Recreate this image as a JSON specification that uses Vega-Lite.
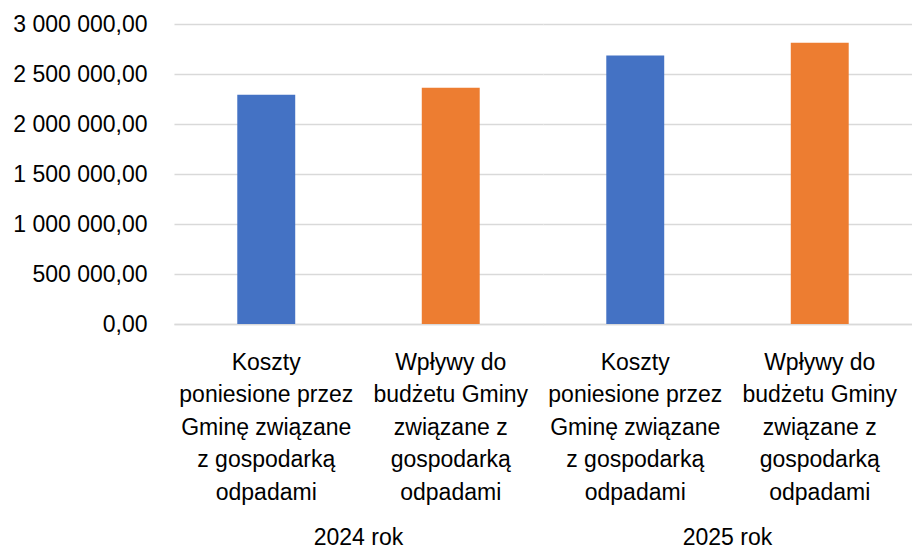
{
  "$schema": "https://vega.github.io/schema/vega-lite/v6.json",
  "padding": {"left": 12, "top": 13, "right": 0, "bottom": 0},
  "autosize": {"type": "pad"},
  "config": {
    "view": {"stroke": null},
    "font": "Liberation Sans",
    "locale": {"number": {"decimal": ",", "thousands": " ", "grouping": [3], "currency": ["", " zł"]}}
  },
  "data": {
    "values": [
      {"year": "2024 rok", "cat": "Koszty|poniesione przez|Gminę związane|z gospodarką|odpadami", "kind": "Koszty", "value": 2293000},
      {"year": "2024 rok", "cat": "Wpływy do|budżetu Gminy|związane z|gospodarką|odpadami", "kind": "Wpływy", "value": 2363000},
      {"year": "2025 rok", "cat": "Koszty|poniesione przez|Gminę związane|z gospodarką|odpadami", "kind": "Koszty", "value": 2686000},
      {"year": "2025 rok", "cat": "Wpływy do|budżetu Gminy|związane z|gospodarką|odpadami", "kind": "Wpływy", "value": 2813000}
    ]
  },
  "spacing": 0,
  "facet": {
    "column": {
      "field": "year",
      "type": "nominal",
      "header": {
        "title": null,
        "labelOrient": "bottom",
        "labelFont": "Liberation Sans",
        "labelFontSize": 23,
        "labelColor": "#000000",
        "labelPadding": 23
      }
    }
  },
  "spec": {
    "width": 369,
    "height": 300,
    "mark": {"type": "bar"},
    "encoding": {
      "x": {
        "field": "cat",
        "type": "nominal",
        "sort": null,
        "scale": {"paddingInner": 0.686, "paddingOuter": 0.343},
        "axis": {
          "title": null,
          "labelAngle": 0,
          "labelExpr": "split(datum.label, '|')",
          "labelFontSize": 23,
          "labelColor": "#000000",
          "labelLineHeight": 32.5,
          "labelPadding": 27,
          "labelBaseline": "top",
          "ticks": false,
          "domainColor": "#d9d9d9",
          "domainWidth": 1.5
        }
      },
      "y": {
        "field": "value",
        "type": "quantitative",
        "scale": {"domain": [0, 3000000]},
        "axis": {
          "title": null,
          "values": [0, 500000, 1000000, 1500000, 2000000, 2500000, 3000000],
          "format": ",.2f",
          "labelFontSize": 23,
          "labelColor": "#000000",
          "labelPadding": 27,
          "ticks": false,
          "domain": false,
          "gridColor": "#d9d9d9",
          "gridWidth": 1.5
        }
      },
      "color": {
        "field": "kind",
        "type": "nominal",
        "scale": {"domain": ["Koszty", "Wpływy"], "range": ["#4472C4", "#ED7D31"]},
        "legend": null
      }
    }
  }
}
